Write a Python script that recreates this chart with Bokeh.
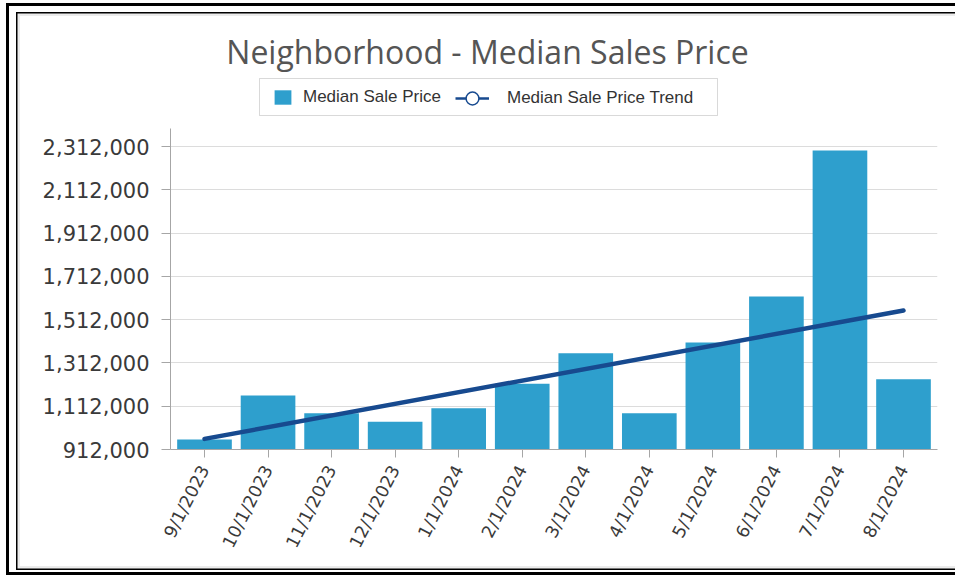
import math
from bokeh.plotting import figure
from bokeh.models import (FactorRange, Range1d, FixedTicker, NumeralTickFormatter,
                          Legend, LegendItem, BoxAnnotation, Label)
from bokeh.embed import file_html
from bokeh.resources import INLINE

# ---- data ----
dates = ["9/1/2023", "10/1/2023", "11/1/2023", "12/1/2023", "1/1/2024", "2/1/2024",
         "3/1/2024", "4/1/2024", "5/1/2024", "6/1/2024", "7/1/2024", "8/1/2024"]
median_price = [958000, 1161000, 1080000, 1040000, 1103000, 1216000,
                1357000, 1080000, 1406000, 1619000, 2293000, 1237000]
trend_dates = ["9/1/2023", "8/1/2024"]
trend_price = [961000, 1554000]
y_ticks = [912000, 1112000, 1312000, 1512000, 1712000, 1912000, 2112000, 2312000]
title_text = "Neighborhood - Median Sales Price"
bar_label = "Median Sale Price"
trend_label = "Median Sale Price Trend"

# ---- layout constants (page pixels) ----
BAR = "#2E9FCD"
NAVY = "#174A8F"
AXIS = "#a6a6a6"
W, H = 949, 572                 # border-box size of the figure element
FRAME_L, FRAME_R = 170, 937     # page x of plot frame
Y_LO_PX, Y_HI_PX = 449, 146     # page y of first / last tick
PAD = 0.035
UNIT = (FRAME_R - FRAME_L) / (len(dates) + 2 * PAD)
PER_PX = (y_ticks[-1] - y_ticks[0]) / (Y_LO_PX - Y_HI_PX)
Y_TOP = y_ticks[0] + (Y_LO_PX - 6) * PER_PX   # frame reaches canvas top (page y 6)


def xd(px):
    return -PAD + (px - FRAME_L) / UNIT


def yd(py):
    return y_ticks[0] + (Y_LO_PX - py) * PER_PX


p = figure(width=W, height=H,
           x_range=FactorRange(factors=dates, range_padding=PAD, range_padding_units="absolute"),
           y_range=Range1d(y_ticks[0], Y_TOP),
           output_backend="svg", toolbar_location=None, title_location=None,
           min_border_left=161, min_border_right=21, min_border_top=0, min_border_bottom=129)
p.styles = {
    "margin": "3px 0 0 6px",
    "border-left": "3px solid #000", "border-top": "3px solid #000",
    "border-bottom": "3px solid #000",
    "box-shadow": ("inset 7px 6px 0 0 #fff, inset 0 -2px 0 0 #fff, "
                   "inset 8.5px 7.5px 0 0 #000, inset 0 -3.5px 0 0 #000, "
                   "inset 11px 10px 0 0 #ececec, inset 0 -6px 0 0 #ececec"),
}
p.outline_line_color = None
p.background_fill_alpha = 0
p.border_fill_alpha = 0

bars = p.vbar(x=dates, top=median_price, bottom=y_ticks[0], width=0.86,
              fill_color=BAR, line_color=None)
p.line(x=trend_dates, y=trend_price, line_color=NAVY, line_width=4.5, line_cap="round")

# legend-only glyphs (nothing visible in the plot)
nan = float("nan")
leg_line = p.line(x=dates[:2], y=[nan, nan], line_color=NAVY, line_width=2.5)
leg_circ = p.scatter(x=dates[:1], y=[nan], marker="circle", fill_color="white",
                     line_color=NAVY, line_width=1.5)

# axes
p.yaxis.ticker = FixedTicker(ticks=y_ticks)
p.yaxis.formatter = NumeralTickFormatter(format="0,0")
p.yaxis.bounds = (y_ticks[0], yd(128))
for ax in (p.xaxis, p.yaxis):
    ax.axis_line_color = AXIS
    ax.major_tick_line_color = AXIS
    ax.minor_tick_line_color = None
    ax.major_tick_in = 0
p.yaxis.major_tick_out = 9
p.yaxis.major_label_standoff = 12
p.yaxis.major_label_text_font = "DejaVu Sans"
p.yaxis.major_label_text_font_size = "21px"
p.yaxis.major_label_text_color = "#3a3a3a"
p.xaxis.major_tick_out = 8
p.xaxis.major_label_standoff = 9
p.xaxis.major_label_orientation = math.radians(63)
p.xaxis.major_label_text_font = "DejaVu Sans"
p.xaxis.major_label_text_font_size = "17.5px"
p.xaxis.major_label_text_color = "#3a3a3a"
p.xgrid.grid_line_color = None
p.ygrid.grid_line_color = "#dcdcdc"

# title
p.add_layout(Label(x=xd(487), y=yd(51), text=title_text, text_align="center",
                   text_baseline="alphabetic", text_font="Open Sans",
                   text_font_size="32px", text_color="#555555"))

# legend frame + two legends
p.add_layout(BoxAnnotation(left=xd(259), right=xd(717), top=yd(78), bottom=yd(115),
                           fill_color="white", fill_alpha=1, line_color="#808080",
                           line_width=1))
common = dict(orientation="horizontal", padding=0, margin=0, border_line_color=None,
              background_fill_alpha=0, label_text_font="Liberation Sans",
              label_text_font_size="17px", label_text_color="#333333")
leg_a = Legend(items=[LegendItem(label=bar_label, renderers=[bars])],
               location=(272 - FRAME_L, Y_LO_PX - 106.5), glyph_width=21, glyph_height=18,
               label_height=18, label_standoff=10, **common)
leg_b = Legend(items=[LegendItem(label=trend_label, renderers=[leg_line, leg_circ])],
               location=(455 - FRAME_L, Y_LO_PX - 113.5), glyph_width=34, glyph_height=32,
               label_height=32, label_standoff=18, **common)
p.add_layout(leg_a, "center")
p.add_layout(leg_b, "center")

open("out.html", "w").write(file_html(p, INLINE))
